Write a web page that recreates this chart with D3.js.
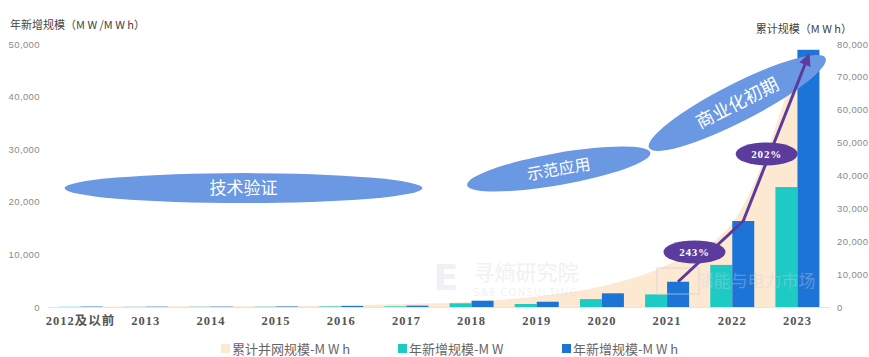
<!DOCTYPE html>
<html><head><meta charset="utf-8">
<script src="https://cdn.jsdelivr.net/npm/d3@7"></script>
<style>
html,body{margin:0;padding:0;background:#fff;}
svg{display:block;}
</style></head>
<body>
<svg id="chart" width="869" height="357"></svg>
<script>
const categories = ["2012及以前","2013","2014","2015","2016","2017","2018","2019","2020","2021","2022","2023"];
const newMW  = [40, 30, 40, 50, 100, 120, 700, 570, 1500, 2400, 8000, 22800];
const newMWh = [80, 60, 70, 100, 200, 250, 1200, 1000, 2600, 4800, 16350, 48900];
const cumMWh = [100, 150, 200, 300, 500, 900, 1600, 3200, 6300, 12800, 25500, 75000];
const leftTicks = [0, 10000, 20000, 30000, 40000, 50000];
const rightTicks = [0, 10000, 20000, 30000, 40000, 50000, 60000, 70000, 80000];
const growthLabels = [{from:"2021", to:"2022", text:"243%", val:10460, dx:60}, {from:"2022", to:"2023", text:"202%", val:29090, dx:67}];
const phases = [
  {text:"技术验证", cat:"2012及以前", dx:0, span:6, val:22600, rx:179, ry:15, rot:0, fs:17},
  {text:"示范应用", cat:"2019", dx:22, span:0, val:26240, rx:93, ry:16, rot:-10, fs:16},
  {text:"商业化初期", cat:"2022", dx:5, span:0, val:38800, rx:99, ry:19, rot:-27, fs:18}
];
const seriesNames = ["累计并网规模-M W h", "年新增规模-M W", "年新增规模-M W h"];

const colBeige = "#fde8d2", colTeal = "#1dcac4", colBlue = "#1c74d6", colPurple = "#5b3b9c", colPhase = "#6b98e3";
const cjk = "'Noto Sans CJK SC','Noto Sans',sans-serif";

const svg = d3.select("#chart");
const L = 48, R = 830, T = 44, B = 307;
const x = d3.scaleBand().domain(categories).range([L, R]).paddingInner(0).paddingOuter(0);
const bw = x.bandwidth();
const x1 = d3.scaleBand().domain(["MW","MWh"]).range([bw/2 - 22, bw/2 + 22]).padding(0);
const yL = d3.scaleLinear().domain([0, 50000]).range([B, T]);
const yR = d3.scaleLinear().domain([0, 80000]).range([B, T]);
const cx = c => x(c) + bw/2;

// cumulative area (right axis)
const area = d3.area()
  .x((d,i) => cx(categories[i]))
  .y0(B)
  .y1(d => yR(d))
  .curve(d3.curveMonotoneX);
svg.append("path").datum(cumMWh).attr("d", area).attr("fill", colBeige);

// baseline
svg.append("line").attr("x1", L).attr("x2", R).attr("y1", B+0.5).attr("y2", B+0.5)
  .attr("stroke", "#e9e3dc").attr("stroke-width", 1);

// bars
const g = svg.append("g");
g.selectAll("rect.mw").data(newMW).join("rect")
  .attr("x", (d,i) => x(categories[i]) + x1("MW"))
  .attr("width", x1.bandwidth())
  .attr("y", d => yL(d)).attr("height", d => B - yL(d))
  .attr("fill", colTeal);
g.selectAll("rect.mwh").data(newMWh).join("rect")
  .attr("x", (d,i) => x(categories[i]) + x1("MWh"))
  .attr("width", x1.bandwidth())
  .attr("y", d => yL(d)).attr("height", d => B - yL(d))
  .attr("fill", colBlue);

// watermarks (very faint)
const wm = svg.append("g").attr("opacity", 0.35).attr("pointer-events","none");
wm.append("text").attr("x", 446).attr("y", 290).attr("font-family", "'DejaVu Sans',sans-serif")
  .attr("font-weight","bold").attr("font-size", 36).attr("fill", "#d6d6e4").attr("text-anchor","middle").text("E");
wm.append("text").attr("x", 526).attr("y", 280).attr("font-family", cjk).attr("font-size", 21)
  .attr("fill", "#d6d6e4").attr("text-anchor","middle").text("寻熵研究院");
wm.append("text").attr("x", 526).attr("y", 296).attr("font-family", "'Open Sans',sans-serif").attr("font-size", 10)
  .attr("letter-spacing", 1.5).attr("fill", "#d6d6e4").attr("text-anchor","middle").text("S&E CONSULTING");
wm.append("rect").attr("x", 657).attr("y", 268).attr("width", 42).attr("height", 26).attr("fill","none")
  .attr("stroke", "#d0d0dc").attr("stroke-width", 2);
wm.append("text").attr("x", 756).attr("y", 287).attr("font-family", cjk).attr("font-size", 17)
  .attr("fill", "#d0d0dc").attr("text-anchor","middle").text("储能与电力市场");

// phase ellipses
phases.forEach(p => {
  const px = p.span ? (x(p.cat) + x(categories[categories.indexOf(p.cat)+p.span-1]) + bw)/2 + p.dx : cx(p.cat) + p.dx;
  const py = yL(p.val);
  const gp = svg.append("g").attr("transform", `translate(${px},${py}) rotate(${p.rot})`);
  gp.append("ellipse").attr("rx", p.rx).attr("ry", p.ry).attr("fill", colPhase);
  gp.append("text").attr("text-anchor","middle").attr("dy","0.36em")
    .attr("font-family", cjk).attr("font-size", p.fs).attr("fill", "#fff").text(p.text);
});

// growth arrow through MWh bar tops
const defs = svg.append("defs");
defs.append("marker").attr("id","arr").attr("viewBox","0 0 10 10").attr("refX", 8).attr("refY", 5)
  .attr("markerWidth", 4).attr("markerHeight", 4).attr("orient","auto")
  .append("path").attr("d","M0,0 L10,5 L0,10 z").attr("fill", colPurple);
const arrowCats = ["2021","2022","2023"];
const arrowPts = arrowCats.map(c => {
  const i = categories.indexOf(c);
  return [x(c) + x1("MWh") + x1.bandwidth()/2, yL(newMWh[i]) + (i === categories.length-1 ? 6 : 0)];
});
svg.append("path").attr("d", d3.line()(arrowPts)).attr("fill","none")
  .attr("stroke", colPurple).attr("stroke-width", 3).attr("marker-end","url(#arr)");

growthLabels.forEach(gl => {
  const gx = x(gl.from) + gl.dx, gy = yL(gl.val);
  svg.append("ellipse").attr("cx", gx).attr("cy", gy).attr("rx", 31).attr("ry", 11.5).attr("fill", colPurple);
  svg.append("text").attr("x", gx).attr("y", gy).attr("dy","0.36em").attr("text-anchor","middle")
    .attr("font-family","'Liberation Serif','DejaVu Serif',serif").attr("font-weight","bold")
    .attr("font-size", 11).attr("letter-spacing", 0.8).attr("fill","#fff").text(gl.text);
});

// axes
const fmt = d3.format(",");
const axL = svg.append("g").attr("transform", `translate(${L-8},0)`)
  .call(d3.axisLeft(yL).tickValues(leftTicks).tickFormat(fmt).tickSize(0).tickPadding(0));
const axR = svg.append("g").attr("transform", `translate(${R+7},0)`)
  .call(d3.axisRight(yR).tickValues(rightTicks).tickFormat(fmt).tickSize(0).tickPadding(0));
[axL, axR].forEach(a => {
  a.select(".domain").remove();
  a.selectAll("text").attr("font-family","'Liberation Sans',sans-serif").attr("font-size", 9.5)
    .attr("letter-spacing", 0.4).attr("fill", "#8a8a8a");
});
const axB = svg.append("g").attr("transform", `translate(0,${B})`)
  .call(d3.axisBottom(x).tickSize(0).tickPadding(9));
axB.select(".domain").remove();
axB.selectAll("text").attr("font-family","'Liberation Serif','Noto Sans CJK SC',serif").attr("font-weight","bold")
  .attr("font-size", 12.5).attr("letter-spacing", 1).attr("fill", "#555");

// axis titles
svg.append("text").attr("x", 10).attr("y", 29).attr("font-family", cjk).attr("font-size", 11)
  .attr("fill", "#444").text("年新增规模（M W /M W h）");
svg.append("text").attr("x", 852).attr("y", 33).attr("text-anchor","end").attr("font-family", cjk).attr("font-size", 11)
  .attr("fill", "#444").text("累计规模（M W h）");

// legend
const legendX = [221, 398, 562];
const legendCol = [colBeige, colTeal, colBlue];
seriesNames.forEach((n, i) => {
  svg.append("rect").attr("x", legendX[i]).attr("y", 344).attr("width", 9).attr("height", 9).attr("fill", legendCol[i]);
  svg.append("text").attr("x", legendX[i] + 11).attr("y", 349).attr("dy","0.36em")
    .attr("font-family", cjk).attr("font-size", 13).attr("fill", "#666").text(n);
});
</script>
</body></html>
